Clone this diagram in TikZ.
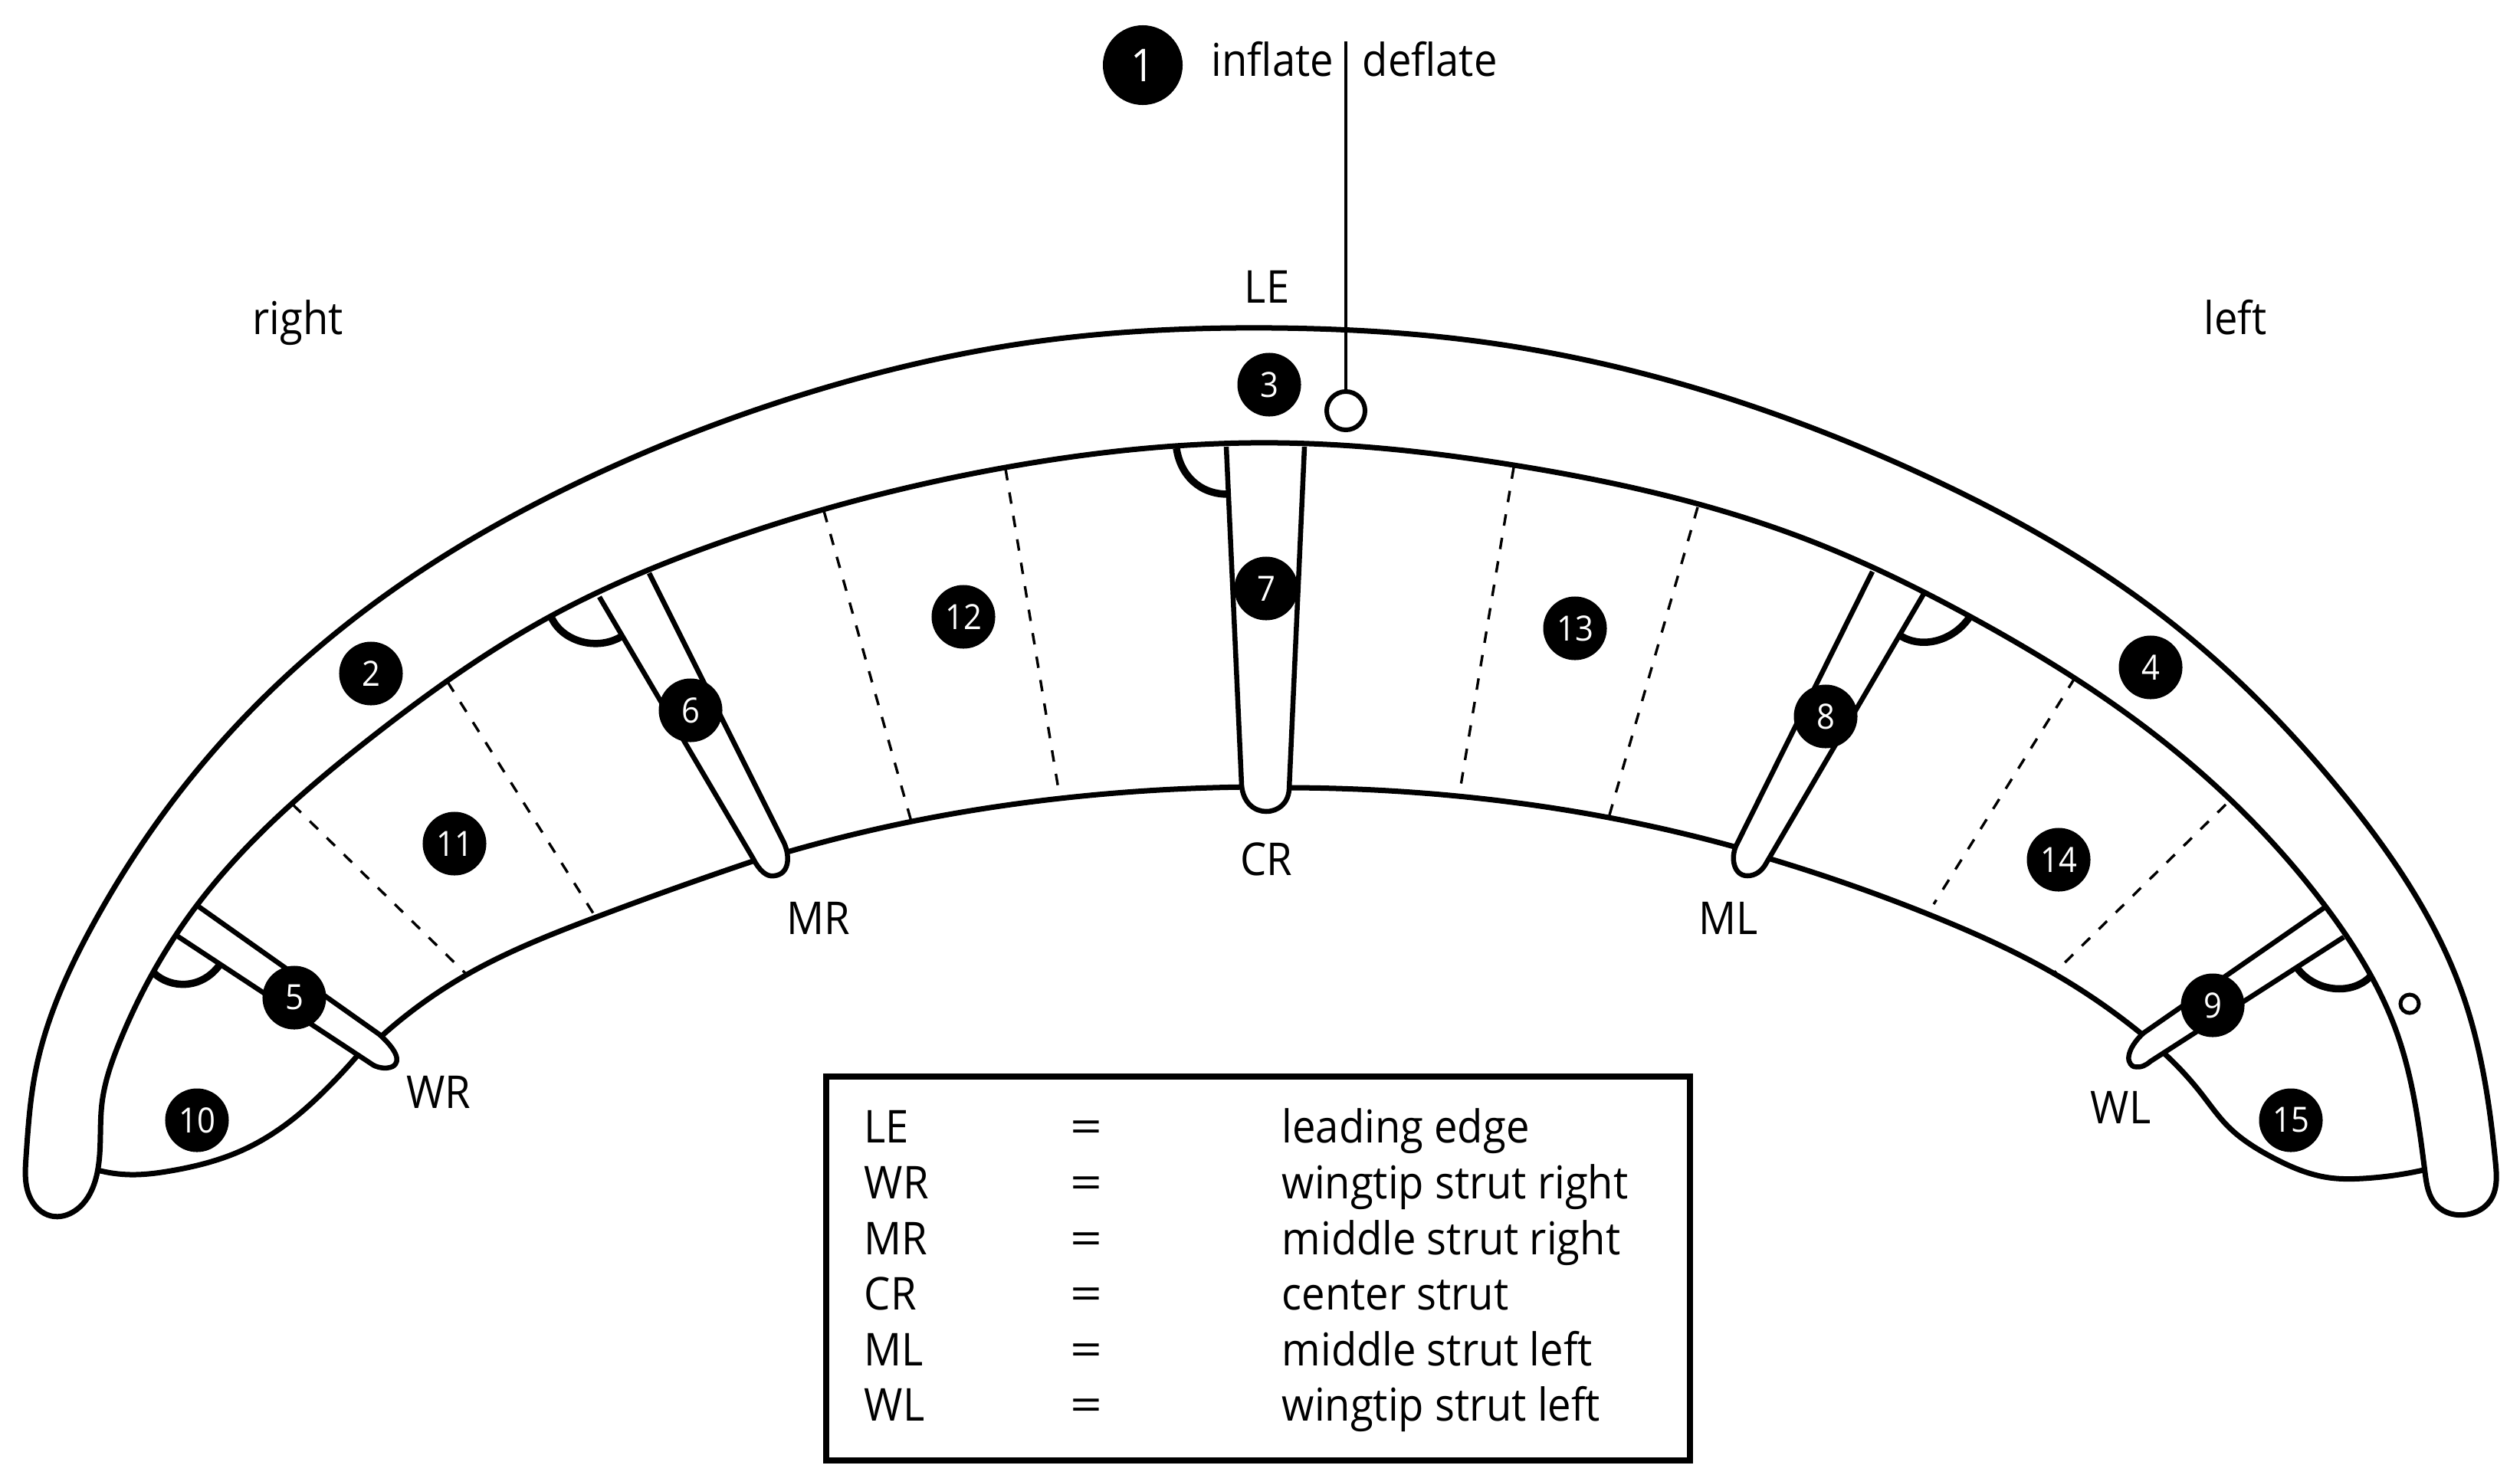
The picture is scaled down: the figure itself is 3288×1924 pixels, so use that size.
\documentclass[tikz,border=0pt]{standalone}
\usepackage{fontspec}
\usetikzlibrary{hobby}
\setmainfont[FakeStretch=0.92]{Open Sans}
\newcommand{\bigfont}{\fontsize{16.8}{20}\selectfont}
\newcommand{\numfont}{\fontsize{12.9}{14}\selectfont}
\tikzset{
  main/.style={line width=7*0.2845pt,line join=round},
  strutline/.style={line width=6.5*0.2845pt,fill=white,line join=round},
  mark arc/.style={line width=9.5*0.2845pt},
  dashline/.style={line width=3.4*0.2845pt,dash pattern=on 15*0.2845pt off 16*0.2845pt},
  num/.style={circle,fill=black,text=white,inner sep=0pt,minimum size=83*0.2845pt,font=\numfont},
  lab/.style={inner sep=0pt,text=black,font=\bigfont,anchor=base west},
  labc/.style={inner sep=0pt,text=black,font=\bigfont,anchor=base},
}
\newcommand{\wideeq}{\scalebox{1.35}[1]{=}}
\begin{document}
\begin{tikzpicture}[x=0.01cm,y=-0.01cm,use Hobby shortcut]
\useasboundingbox (0,0) rectangle (3288,1924);
\fill[white] (0,0) rectangle (3288,1924);
% trailing edges
\draw[main] (498,1352) .. (609,1272) .. (775,1198) .. (1000,1118);
\draw[main] (1020,1114) .. (1190,1072) .. (1383,1042) .. (1640,1027);
\draw[main] (1670,1028) .. (1902,1039) .. (2099,1067) .. (2270,1107);
\draw[main] (2300,1118) .. (2523,1196) .. (2679,1270) .. (2795,1350);
\draw[main] (466,1378) .. (424,1423) .. (379,1463) .. (312,1503) .. (223,1528) .. (170,1533) .. (127,1527);
\draw[main] (2824,1375) .. (2872,1427) .. (2907,1470) .. (2964,1510) .. (3039,1537) .. (3083,1538) .. (3162,1527);
% dashed panel lines
\draw[dashline] (382,1050) -- (607,1270);
\draw[dashline] (584,890) -- (776,1195);
\draw[dashline] (1075,667) -- (1189,1072);
\draw[dashline] (1312,612) -- (1383,1042);
\draw[dashline] (1975,610) -- (1904,1037);
\draw[dashline] (2215,662) -- (2099,1067);
\draw[dashline] (2707,885) -- (2523,1180);
\draw[dashline] (2904,1050) -- (2678,1272);
% angle marks
\draw[mark arc] (201,1270) .. controls (222,1290) and (262,1292) .. (286,1260);
\draw[mark arc] (720,807) .. controls (735,838) and (780,850) .. (812,830);
\draw[mark arc] (1535,585) .. controls (1540,620) and (1565,645) .. (1602,645);
\draw[mark arc] (2480,830) .. controls (2510,848) and (2550,835) .. (2570,805);
\draw[mark arc] (2997,1263) .. controls (3020,1295) and (3070,1300) .. (3094,1273);
% struts
\draw[strutline] (259,1183) -- (495,1350) .. controls (515,1368) and (525,1385) .. (512,1392) .. controls (503,1396) and (490,1393) .. (484,1388) -- (232,1222);
\draw[strutline] (847,748) -- (1023,1100) .. controls (1031,1118) and (1030,1141) .. (1010,1143) .. controls (1000,1145) and (990,1135) .. (983,1121) -- (782,779);
\draw[strutline] (1600,583) -- (1620,1025) .. controls (1622,1048) and (1637,1059) .. (1652,1059) .. controls (1668,1059) and (1681,1048) .. (1682,1030) -- (1702,583);
\draw[strutline] (2443,746) -- (2265,1104) .. controls (2258,1120) and (2262,1143) .. (2280,1143) .. controls (2290,1143) and (2298,1137) .. (2303,1129) -- (2510,775);
\draw[strutline] (3032,1185) -- (2797,1348) .. controls (2780,1363) and (2770,1385) .. (2784,1392) .. controls (2794,1394) and (2800,1390) .. (2806,1385) -- (3058,1223);
% leading edge tube
\draw[main,closed=true]
 (127,1530) .. (98,1580) .. (67,1587) .. (38,1560) .. (34,1510) .. (46,1400) .. (125,1200) .. (228,1042) .. (478,795) .. (775,620) .. (1050,514) .. (1350,446) .. (1660,428) .. (1940,447) .. (2240,515) .. (2510,620) .. (2810,795) .. (3060,1040) .. (3214,1300) .. (3256,1517) .. (3249,1567) .. (3219,1585) .. (3179,1573) .. (3164,1530)
 .. (3127,1347) .. (3035,1184) .. (2800,950) .. (2575,807) .. (2360,705) .. (1975,607) .. (1668,578) .. (1312,610) .. (934,710) .. (717,805) .. (485,962) .. (255,1184) .. (156,1360) .. (133,1440);
% valves
\coordinate (valvetop) at (1756,54);
\node[circle,draw,line width=6*0.2845pt,inner sep=0pt,minimum size=50*0.2845pt,fill=white] (valve) at (1756,536) {};
\draw[line width=3.6*0.2845pt] (valvetop) -- (valve);
\node[circle,draw,line width=5*0.2845pt,inner sep=0pt,minimum size=24*0.2845pt] (smallvalve) at (3144,1310) {};
% numbers
\node[num,minimum size=104*0.2845pt,font=\bigfont] (n1) at (1491,85) {1};
\node[num] (n2) at (484,879) {2};
\node[num] (n3) at (1656,502) {3};
\node[num] (n4) at (2806,871) {4};
\node[num] (n5) at (384,1302) {5};
\node[num] (n6) at (901,927) {6};
\node[num] (n7) at (1652,768) {7};
\node[num] (n8) at (2382,935) {8};
\node[num] (n9) at (2887,1312) {9};
\node[num] (n10) at (257,1462) {10};
\node[num] (n11) at (593,1101) {11};
\node[num] (n12) at (1257,805) {12};
\node[num] (n13) at (2055,820) {13};
\node[num] (n14) at (2686,1122) {14};
\node[num] (n15) at (2989,1462) {15};
% labels
\node[lab] (inflate) at (1580,99) {inflate};
\node[lab] (deflate) at (1777,99) {deflate};
\node[lab] (right) at (329,436) {right};
\node[lab] (left) at (2875,436) {left};
\node[labc] (le) at (1653,395) {LE};
\node[labc] (cr) at (1652,1142) {CR};
\node[labc] (wr) at (572,1446) {WR};
\node[labc] (mr) at (1068,1219) {MR};
\node[labc] (ml) at (2255,1219) {ML};
\node[labc] (wl) at (2767,1466) {WL};
% legend
\node[draw,line width=8*0.2845pt,inner sep=0pt,minimum width=1127*0.2845pt,minimum height=501*0.2845pt] (legend) at (1641.5,1655.5) {};
\node[lab] (a1) at (1127,1491) {LE};
\node[lab] (a2) at (1127,1564) {WR};
\node[lab] (a3) at (1127,1637) {MR};
\node[lab] (a4) at (1127,1709) {CR};
\node[lab] (a5) at (1127,1782) {ML};
\node[lab] (a6) at (1127,1854) {WL};
\node[labc] (e1) at (1417,1491) {\wideeq};
\node[labc] (e2) at (1417,1564) {\wideeq};
\node[labc] (e3) at (1417,1637) {\wideeq};
\node[labc] (e4) at (1417,1709) {\wideeq};
\node[labc] (e5) at (1417,1782) {\wideeq};
\node[labc] (e6) at (1417,1854) {\wideeq};
\node[lab] (d1) at (1672,1491) {leading edge};
\node[lab] (d2) at (1672,1564) {wingtip strut right};
\node[lab] (d3) at (1672,1637) {middle strut right};
\node[lab] (d4) at (1672,1709) {center strut};
\node[lab] (d5) at (1672,1782) {middle strut left};
\node[lab] (d6) at (1672,1854) {wingtip strut left};
\end{tikzpicture}
\end{document}
